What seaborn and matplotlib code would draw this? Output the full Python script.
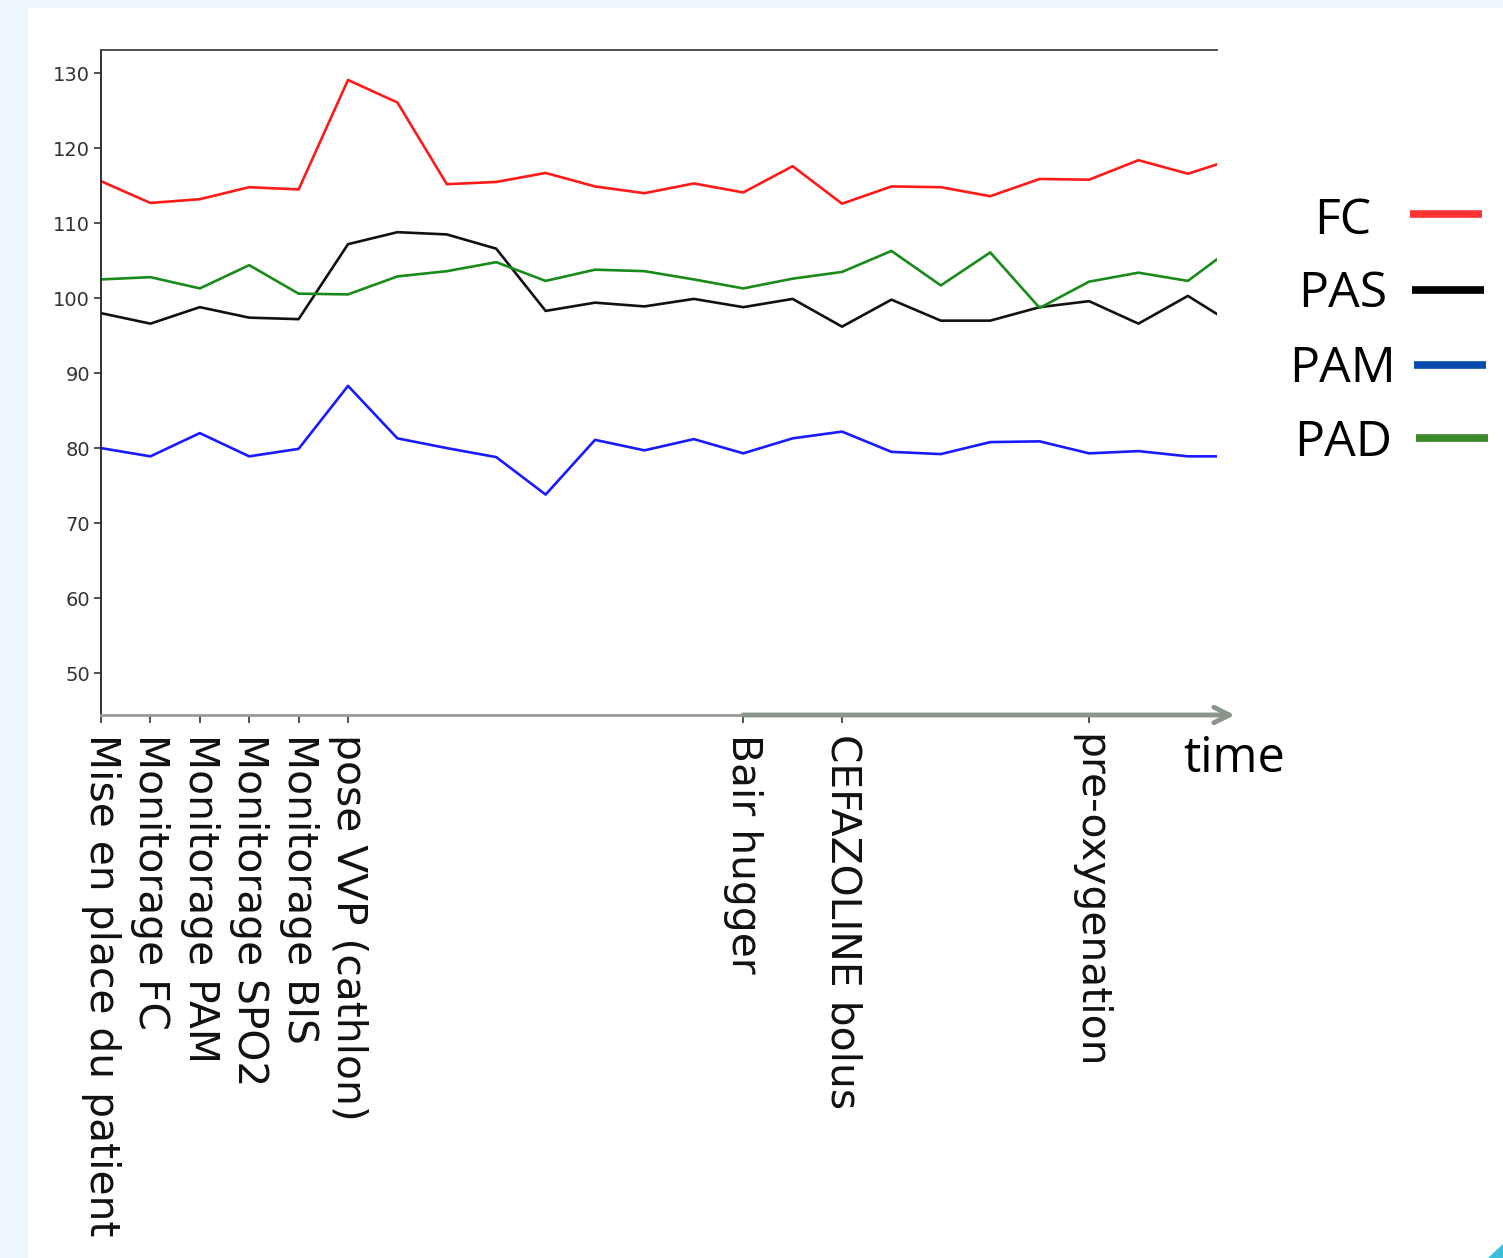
import numpy as np
import pandas as pd
import matplotlib
matplotlib.use("Agg")
import matplotlib.pyplot as plt
from matplotlib.lines import Line2D
from matplotlib.patches import Rectangle, Polygon
import seaborn as sns

# Values (one point per step)
steps = list(range(24))
fc = [115.6, 112.7, 113.2, 114.8, 114.5, 129.1, 126.1, 115.2, 115.5, 116.7, 114.9, 114.0,
      115.3, 114.1, 117.6, 112.6, 114.9, 114.8, 113.6, 115.9, 115.8, 118.4, 116.6, 118.7]
pas = [98.0, 96.6, 98.8, 97.4, 97.2, 107.2, 108.8, 108.5, 106.6, 98.3, 99.4, 98.9,
       99.9, 98.8, 99.9, 96.2, 99.8, 97.0, 97.0, 98.8, 99.6, 96.6, 100.3, 96.2]
pam = [80.0, 78.9, 82.0, 78.9, 79.9, 88.3, 81.3, 80.0, 78.8, 73.8, 81.1, 79.7,
       81.2, 79.3, 81.3, 82.2, 79.5, 79.2, 80.8, 80.9, 79.3, 79.6, 78.9, 78.9]
pad = [102.5, 102.8, 101.3, 104.4, 100.6, 100.5, 102.9, 103.6, 104.8, 102.3, 103.8, 103.6,
       102.5, 101.3, 102.6, 103.5, 106.3, 101.7, 106.1, 98.7, 102.2, 103.4, 102.3, 107.2]

event_pos = [0, 1, 2, 3, 4, 5, 13, 15, 20]
event_labels = ["Mise en place du patient", "Monitorage FC", "Monitorage PAM",
                "Monitorage SPO2", "Monitorage BIS", "pose VVP (cathlon)",
                "Bair hugger", "CEFAZOLINE bolus", "pre-oxygenation"]
yticks = [50, 60, 70, 80, 90, 100, 110, 120, 130]

series = ["FC", "PAS", "PAM", "PAD"]
line_colors = {"FC": "#ff1a1a", "PAS": "#111111", "PAM": "#1a1aff", "PAD": "#1a8a1a"}
legend_colors = ["#ff3333", "#000000", "#0a4bb0", "#3a8a2a"]

df = pd.DataFrame({"step": steps, "FC": fc, "PAS": pas, "PAM": pam, "PAD": pad})
long_df = df.melt(id_vars="step", var_name="serie", value_name="value")

fig = plt.figure(figsize=(15.03, 12.58), dpi=100, facecolor="#eef6fd")
fig.add_artist(Rectangle((28 / 1503, 0), 1, 1 - 8 / 1258, transform=fig.transFigure,
                         facecolor="white", edgecolor="none", zorder=0))

ax = fig.add_axes([101 / 1503, 1 - 715 / 1258, 1116 / 1503, 665 / 1258])
ax.set_facecolor("white")

sns.lineplot(data=long_df, x="step", y="value", hue="serie", hue_order=series,
             palette=line_colors, linewidth=1.9, legend=False, ax=ax)

ax.set_xlim(0, 22.59)
ax.set_ylim(44.4, 133.1)
ax.set_yticks(yticks)
ax.set_xticks(event_pos)
ax.set_xticklabels(event_labels, rotation=270, fontsize=29.3, family="DejaVu Sans", color="#111111")
ax.tick_params(axis="x", length=6, width=1.2, color="#333333", pad=8)
ax.tick_params(axis="y", length=5, width=1.2, color="#333333", labelsize=14, labelcolor="#333333", pad=3)
ax.set_xlabel("")
ax.set_ylabel("")

ax.spines["right"].set_visible(False)
ax.spines["top"].set_color("#444444")
ax.spines["top"].set_linewidth(1.3)
ax.spines["left"].set_color("#222222")
ax.spines["left"].set_linewidth(1.3)
ax.spines["bottom"].set_color("#9a9a9a")
ax.spines["bottom"].set_linewidth(2)

# overlaid time arrow
ax.annotate("", xy=(1.016, 0), xycoords="axes fraction",
            xytext=(13, 0), textcoords=ax.get_xaxis_transform(),
            arrowprops=dict(arrowstyle="->", color="#8a968a", lw=3.5, mutation_scale=28,
                            shrinkA=0, shrinkB=0), annotation_clip=False)
fig.text(1183 / 1503, 1 - 759 / 1258, "time", fontsize=35, family="Open Sans",
         ha="left", va="center", color="black")

# legend placed by hand, as on the slide
text_y = [221, 294, 369, 443]
line_y = [214, 290, 365, 438]
line_x0 = [1410, 1412, 1414, 1416]
for name, col, ty, ly, lx in zip(series, legend_colors, text_y, line_y, line_x0):
    fig.text(1343 / 1503, 1 - ty / 1258, name, fontsize=36, family="Open Sans",
             ha="center", va="center", color="black")
    fig.add_artist(Line2D([lx / 1503, (lx + 72) / 1503], [1 - ly / 1258, 1 - ly / 1258],
                          transform=fig.transFigure, color=col, linewidth=5.5,
                          solid_capstyle="butt"))

fig.add_artist(Polygon([[1503 / 1503, 14 / 1258], [1503 / 1503, 0], [1488 / 1503, 0]],
                       closed=True, transform=fig.transFigure, facecolor="#3cbfdc",
                       edgecolor="none"))

fig.savefig("out.png", dpi=100, facecolor=fig.get_facecolor())
